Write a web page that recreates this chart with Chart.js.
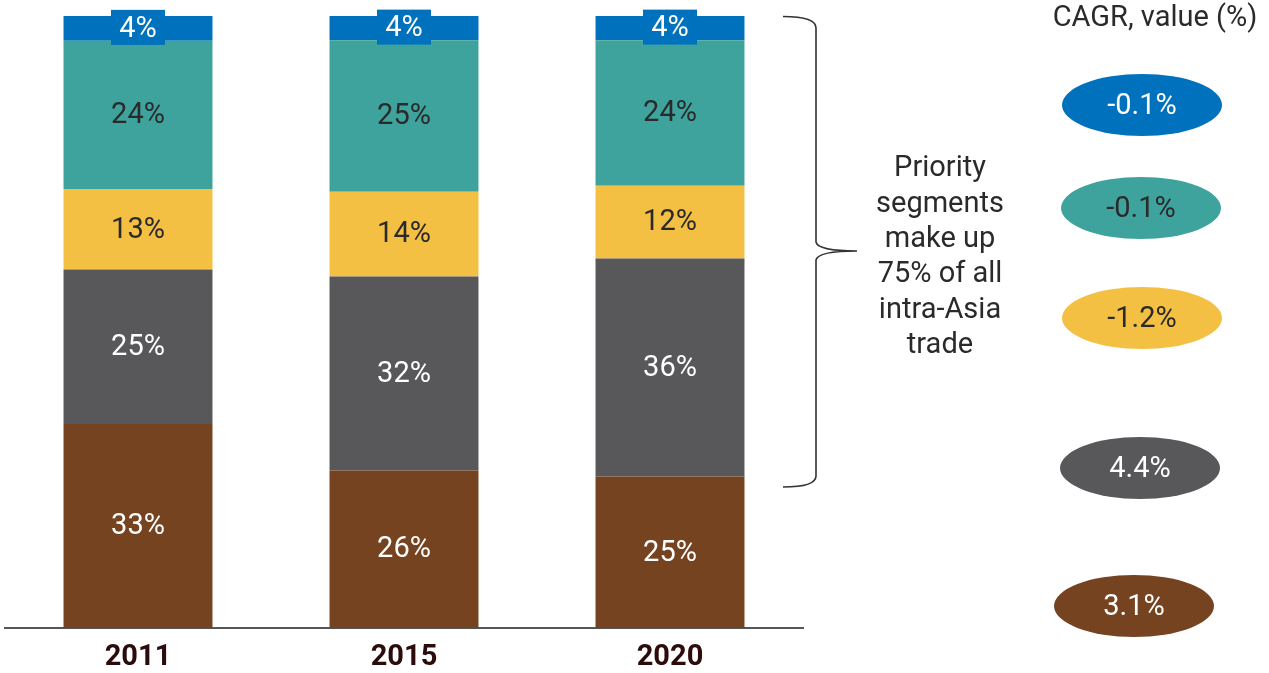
<!DOCTYPE html>
<html>
<head>
<meta charset="utf-8">
<script src="https://cdn.jsdelivr.net/npm/chart.js@4.4.1/dist/chart.umd.min.js"></script>
<style>
  html, body { margin: 0; padding: 0; background: #ffffff; }
  #wrap { width: 1269px; height: 673px; }
</style>
</head>
<body>
<div id="wrap"><canvas id="c" width="1269" height="673"></canvas></div>
<script>
// Share of intra-Asia trade by segment (%), bottom to top
const years = ['2011', '2015', '2020'];
const segBrown  = [33, 26, 25];
const segGray   = [25, 32, 36];
const segYellow = [13, 14, 12];
const segTeal   = [24, 25, 24];
const segBlue   = [4, 4, 4];

// Compound annual growth by segment, value (%)
const cagrBlue = -0.1;
const cagrTeal = -0.1;
const cagrYellow = -1.2;
const cagrGray = 4.4;
const cagrBrown = 3.1;

const noteLines = ['Priority', 'segments', 'make up', '75% of all', 'intra-Asia', 'trade'];
const cagrTitle = 'CAGR, value (%)';

const COLORS = {
  blue: '#0071bc',
  teal: '#3fa39d',
  yellow: '#f4c043',
  gray: '#58585a',
  brown: '#764321'
};

const segments = [
  { key: 'brown',  values: segBrown,  color: COLORS.brown,  text: '#ffffff' },
  { key: 'gray',   values: segGray,   color: COLORS.gray,   text: '#ffffff' },
  { key: 'yellow', values: segYellow, color: COLORS.yellow, text: '#2a2a2a' },
  { key: 'teal',   values: segTeal,   color: COLORS.teal,   text: '#2a2a2a' },
  { key: 'blue',   values: segBlue,   color: COLORS.blue,   text: '#ffffff' }
];

// Each column is shown as a 100% stack of the rounded shares
const totals = years.map((_, i) => segments.reduce((s, seg) => s + seg.values[i], 0));

const datasets = segments.map(seg => ({
  label: seg.key,
  data: seg.values.map((v, i) => v / totals[i] * 100),
  shares: seg.values,
  backgroundColor: seg.color,
  textColor: seg.text,
  borderWidth: 0,
  barPercentage: 0.56,
  categoryPercentage: 1.0
}));

const FONT = 'Roboto, "Liberation Sans", sans-serif';

const labelPlugin = {
  id: 'segmentLabels',
  afterDatasetsDraw(chart) {
    const ctx = chart.ctx;
    ctx.save();
    ctx.textAlign = 'center';
    ctx.textBaseline = 'middle';
    ctx.font = '29px ' + FONT;
    chart.data.datasets.forEach((ds, di) => {
      const meta = chart.getDatasetMeta(di);
      meta.data.forEach((bar, i) => {
        const cy = (bar.y + bar.base) / 2;
        const txt = ds.shares[i] + '%';
        if (di === chart.data.datasets.length - 1) {
          // small tab behind the top label
          const w = 54, h = 35;
          ctx.fillStyle = ds.backgroundColor;
          ctx.fillRect(bar.x - w / 2, cy - h / 2 - 1, w, h);
        }
        ctx.fillStyle = ds.textColor;
        ctx.fillText(txt, bar.x, cy + 1);
      });
    });
    ctx.restore();
  }
};

const sidePlugin = {
  id: 'sideNotes',
  afterDraw(chart) {
    const ctx = chart.ctx;
    ctx.save();

    // curly brace spanning the priority segments
    ctx.strokeStyle = '#333333';
    ctx.lineWidth = 1.6;
    ctx.beginPath();
    ctx.moveTo(783, 16.5);
    ctx.quadraticCurveTo(816, 16.5, 816, 28);
    ctx.lineTo(816, 242);
    ctx.quadraticCurveTo(818, 251, 857, 251);
    ctx.quadraticCurveTo(818, 251, 816, 260);
    ctx.lineTo(816, 476);
    ctx.quadraticCurveTo(816, 487, 783, 487);
    ctx.stroke();

    // note text
    ctx.fillStyle = '#2a2a2a';
    ctx.textAlign = 'center';
    ctx.textBaseline = 'middle';
    ctx.font = '29px ' + FONT;
    noteLines.forEach((line, i) => {
      ctx.fillText(line, 940, 169 + i * 35.4);
    });

    // growth column title
    ctx.fillText(cagrTitle, 1155, 19);

    // growth ovals
    const ovals = [
      { v: cagrBlue,   color: COLORS.blue,   text: '#ffffff', x: 1142, y: 105 },
      { v: cagrTeal,   color: COLORS.teal,   text: '#2a2a2a', x: 1141, y: 208 },
      { v: cagrYellow, color: COLORS.yellow, text: '#2a2a2a', x: 1142, y: 318 },
      { v: cagrGray,   color: COLORS.gray,   text: '#ffffff', x: 1140, y: 468 },
      { v: cagrBrown,  color: COLORS.brown,  text: '#ffffff', x: 1134, y: 606 }
    ];
    ovals.forEach(o => {
      ctx.fillStyle = o.color;
      ctx.beginPath();
      ctx.ellipse(o.x, o.y, 80, 31, 0, 0, Math.PI * 2);
      ctx.fill();
      ctx.fillStyle = o.text;
      ctx.fillText(o.v.toFixed(1) + '%', o.x, o.y + 2);
    });

    ctx.restore();
  }
};

new Chart(document.getElementById('c'), {
  type: 'bar',
  data: { labels: years, datasets },
  options: {
    responsive: false,
    animation: false,
    events: [],
    layout: { padding: { left: 5, right: 466, top: 16, bottom: 0 } },
    plugins: {
      legend: { display: false },
      tooltip: { enabled: false }
    },
    scales: {
      x: {
        stacked: true,
        grid: { display: true, drawOnChartArea: false, drawTicks: true, tickLength: 14, color: 'rgba(0,0,0,0)' },
        border: { display: true, color: '#555555', width: 2 },
        ticks: {
          color: '#2b0b0b',
          padding: 1,
          font: { family: FONT, size: 29, weight: 'bold', lineHeight: 1.0 }
        }
      },
      y: {
        stacked: true,
        display: false,
        min: 0,
        max: 100
      }
    }
  },
  plugins: [labelPlugin, sidePlugin]
});
</script>
</body>
</html>
